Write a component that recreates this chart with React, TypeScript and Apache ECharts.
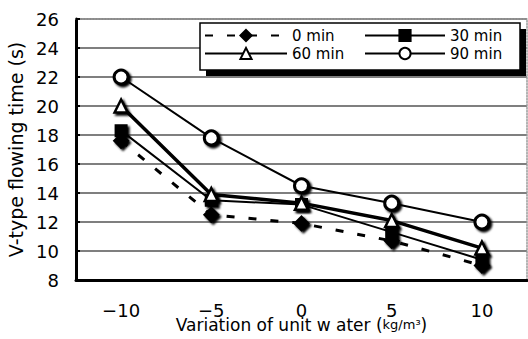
import React, { useEffect, useRef } from "react";
import * as echarts from "echarts";

const categories = ["−10", "−5", "0", "5", "10"];
const min0 = [17.6, 12.5, 11.9, 10.7, 9.0];
const min30 = [18.3, 13.5, 13.2, 11.3, 9.4];
const min60 = [20.0, 13.9, 13.3, 12.1, 10.2];
const min90 = [22.0, 17.8, 14.5, 13.3, 12.0];
const seriesNames = ["0 min", "30 min", "60 min", "90 min"];

const FONT = "DejaVu Sans";

export default function App() {
  const ref = useRef<HTMLDivElement>(null);
  useEffect(() => {
    if (!ref.current) return;
    const chart = echarts.init(ref.current, undefined, { renderer: "svg" });
    const mk = (
      name: string,
      data: number[],
      symbol: string,
      size: number,
      fill: string,
      width: number,
      type: any,
      border: number
    ) => ({
      name,
      type: "line",
      data,
      symbol,
      symbolSize: size,
      showAllSymbol: true,
      lineStyle: { color: "#000", width, type },
      itemStyle: {
        color: fill,
        borderColor: "#000",
        borderWidth: border,
        shadowColor: "#000",
        shadowBlur: 2,
        shadowOffsetX: 2,
        shadowOffsetY: 2,
      },
      emphasis: { disabled: true },
    });
    const legendText = {
      fontFamily: FONT,
      fontSize: 15,
      lineHeight: 17,
      color: "#000",
    };
    chart.setOption({
      animation: false,
      backgroundColor: "#fff",
      textStyle: { fontFamily: FONT },
      grid: { left: 76, right: 1, top: 19, bottom: 59, outerBoundsMode: "none", containLabel: false },
      graphic: {
        elements: [
          {
            id: "boxShadowB",
            type: "rect",
            z: 3,
            shape: { x: 206, y: 69, width: 320, height: 7 },
            style: { fill: "#000" },
          },
          {
            id: "boxShadowR",
            type: "rect",
            z: 3,
            shape: { x: 519, y: 29, width: 7, height: 47 },
            style: { fill: "#000" },
          },
          {
            id: "box",
            type: "rect",
            z: 3,
            shape: { x: 200, y: 23, width: 320, height: 47 },
            style: { fill: "#fff", stroke: "#000", lineWidth: 1.5 },
          },
        ],
      },
      legend: [
        {
          z: 5,
          orient: "vertical",
          left: 204,
          top: 27,
          padding: 0,
          itemWidth: 82,
          itemHeight: 14,
          itemGap: 1,
          data: [seriesNames[0], seriesNames[2]],
          textStyle: legendText,
        },
        {
          z: 5,
          orient: "vertical",
          left: 364,
          top: 27,
          padding: 0,
          itemWidth: 80,
          itemHeight: 14,
          itemGap: 1,
          data: [seriesNames[1], seriesNames[3]],
          textStyle: legendText,
        },
      ],
      xAxis: [
        {
          type: "category",
          data: categories,
          boundaryGap: true,
          axisLine: { lineStyle: { color: "#000", width: 3 } },
          axisTick: { inside: true, length: 5, lineStyle: { color: "#000", width: 2 } },
          axisLabel: { color: "#000", fontSize: 18, margin: 21, fontFamily: FONT },
          name: "Variation of unit w ater ({s|kg/m³})",
          nameLocation: "middle",
          nameGap: 36,
          nameMoveOverlap: false,
          nameTextStyle: {
            color: "#000",
            fontSize: 17,
            fontFamily: FONT,
            rich: { s: { fontSize: 13, color: "#000", fontFamily: FONT } },
          },
        },
        {
          type: "category",
          position: "top",
          data: categories,
          axisLine: { lineStyle: { color: "#999", width: 1.5, type: "dotted" } },
          axisTick: { show: false },
          axisLabel: { show: false },
        },
      ],
      yAxis: [
        {
          type: "value",
          min: 8,
          max: 26,
          interval: 2,
          axisLine: { show: true, lineStyle: { color: "#000", width: 3 } },
          axisTick: { show: true, inside: true, length: 4, lineStyle: { color: "#000", width: 2 } },
          axisLabel: { color: "#000", fontSize: 18, margin: 17, fontFamily: FONT },
          splitLine: { show: true, lineStyle: { color: "#555", width: 1.5 } },
          name: "V-type flowing time (s)",
          nameLocation: "middle",
          nameGap: 46,
          nameTextStyle: { color: "#000", fontSize: 19, fontFamily: FONT },
        },
        {
          type: "value",
          position: "right",
          min: 8,
          max: 26,
          interval: 2,
          axisLine: { show: true, lineStyle: { color: "#999", width: 1.5, type: "dotted" } },
          axisTick: { show: false },
          axisLabel: { show: false },
          splitLine: { show: false },
        },
      ],
      series: [
        mk(seriesNames[0], min0, "diamond", 14, "#000", 3, [8, 14], 2),
        mk(seriesNames[1], min30, "rect", 11, "#000", 2, "solid", 2),
        mk(seriesNames[2], min60, "triangle", 13, "#fff", 3.5, "solid", 2.5),
        mk(seriesNames[3], min90, "circle", 14, "#fff", 2, "solid", 3),
      ],
    });
    return () => chart.dispose();
  }, []);
  return <div ref={ref} style={{ width: 528, height: 339, position: "absolute", left: 0, top: 0 }} />;
}
